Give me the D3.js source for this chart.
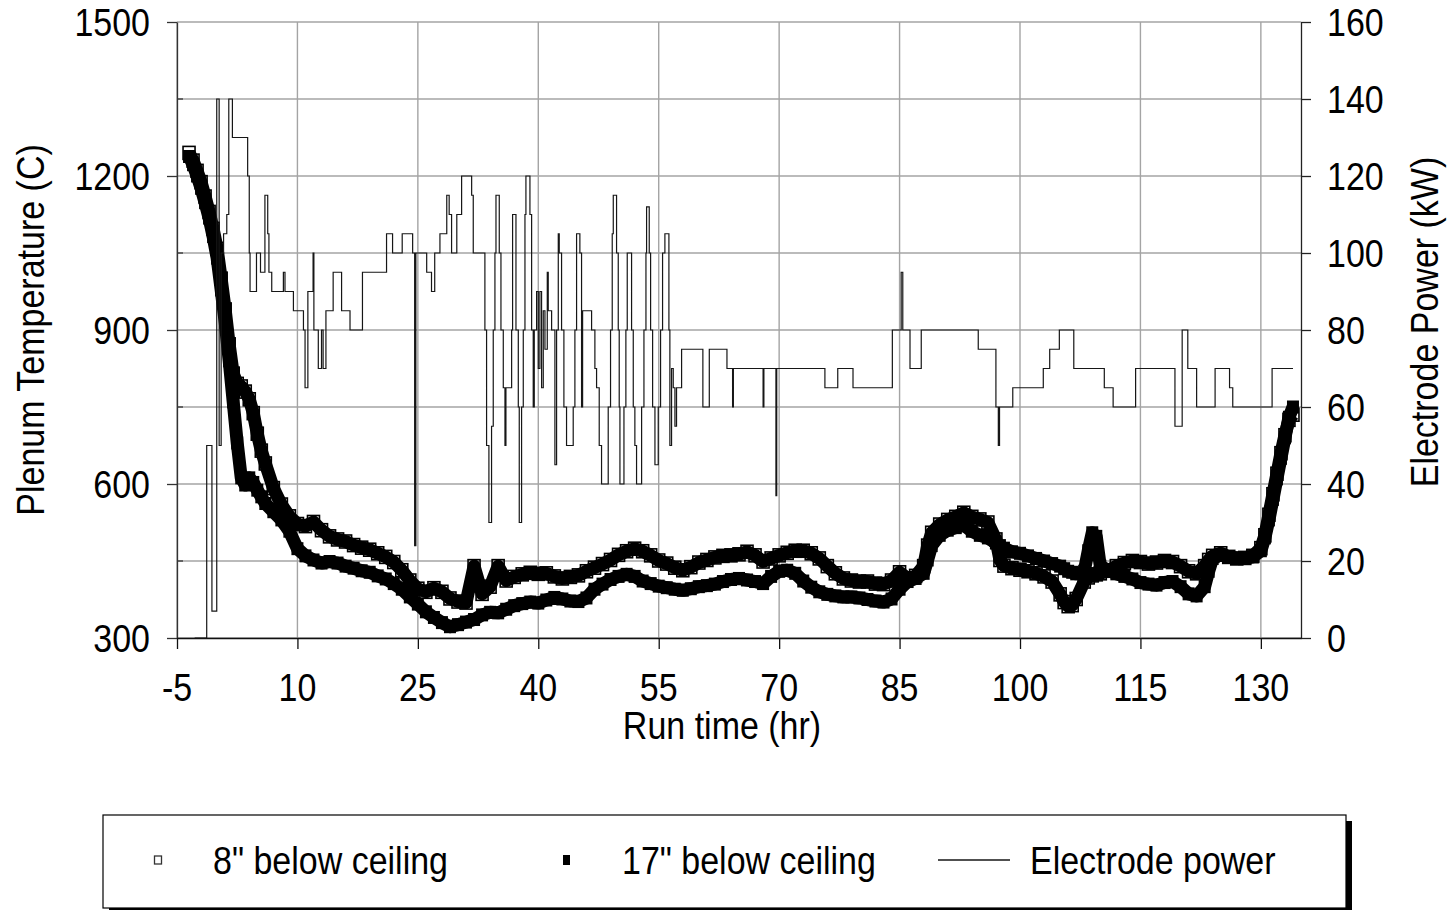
<!DOCTYPE html>
<html>
<head>
<meta charset="utf-8">
<title>Plenum temperature and electrode power</title>
<script src="https://cdn.jsdelivr.net/npm/d3@7/dist/d3.min.js"></script>
<style>
  html, body { margin: 0; padding: 0; background: #fff; }
  svg text { font-family: "Liberation Sans", Arial, Helvetica, sans-serif; font-size: 34px; fill: #000; }
</style>
</head>
<body>
<svg id="chart" width="1450" height="910"></svg>
<script>
// ---------- axis ticks ----------
const timeTicks = [-5, 10, 25, 40, 55, 70, 85, 100, 115, 130];
const tempTicks = [300, 600, 900, 1200, 1500];
const tempMinorTicks = [450, 750, 1050, 1350];
const powerTicks = [0, 20, 40, 60, 80, 100, 120, 140, 160];
const seriesNames = ['8" below ceiling', '17" below ceiling', 'Electrode power'];

// ---------- plenum thermocouples (hr, °C) ----------
const tempTime = [
  -3.5, -3, -2.5, -2, -1.5, -1, -0.5, 0, 0.5, 1,
  1.5, 2, 2.5, 3, 3.5, 4, 4.5, 5, 5.5, 6,
  7, 8, 9, 10, 11, 12, 13, 14, 15, 16,
  17, 18, 19, 20, 21, 22, 23, 24, 25, 26,
  27, 28, 29, 30, 31, 32, 33, 34, 35, 36,
  37, 38, 39, 40, 41, 42, 43, 44, 45, 46,
  47, 48, 49, 50, 51, 52, 53, 54, 55, 56,
  57, 58, 59, 60, 61, 62, 63, 64, 65, 66,
  67, 68, 69, 70, 71, 72, 73, 74, 75, 76,
  77, 78, 79, 80, 81, 82, 83, 84, 85, 86,
  87, 88, 88.5, 89, 90, 91, 92, 93, 94, 95,
  96, 97, 97.5, 98, 99, 100, 101, 102, 103, 104,
  105, 105.5, 106, 106.5, 107, 108, 108.5, 109, 109.5, 110,
  111, 112, 113, 114, 115, 116, 117, 118, 119, 120,
  121, 122, 123, 123.5, 124, 125, 126, 127, 128, 129,
  130, 130.5, 131, 131.5, 132, 132.5, 133, 133.5, 134
];
const temp8in = [
  1245, 1230, 1210, 1188, 1160, 1130, 1097, 1058, 1000, 940,
  872, 815, 795, 790, 780, 765, 738, 698, 665, 640,
  592, 560, 537, 522, 518, 526, 510, 498, 492, 488,
  481, 476, 472, 465, 458, 448, 432, 412, 396, 390,
  397, 390, 377, 371, 369, 440, 386, 400, 440, 412,
  419, 424, 427, 425, 426, 420, 416, 419, 422, 430,
  437, 444, 452, 462, 469, 474, 469, 461, 451, 445,
  437, 432, 438, 447, 452, 457, 460, 461, 463, 468,
  461, 449, 455, 461, 466, 470, 470, 465, 455, 440,
  426, 416, 412, 410, 410, 406, 405, 412, 428, 416,
  421, 440, 480, 505, 521, 530, 536, 544, 536, 531,
  525, 492, 452, 441, 436, 433, 430, 426, 420, 410,
  385, 370, 362, 364, 376, 410, 418, 422, 424, 426,
  431, 440, 446, 450, 448, 445, 447, 450, 448, 440,
  430, 426, 440, 452, 460, 465, 458, 455, 456, 460,
  475, 500, 540, 580, 620, 660, 695, 725, 735
];
const temp17in = [
  1238, 1222, 1200, 1176, 1148, 1118, 1082, 1040, 978, 915,
  840, 760, 680, 612, 598, 612, 603, 588, 575, 562,
  546, 530, 508, 474, 460, 452, 446, 449, 446, 440,
  436, 431, 428, 421, 415, 406, 395, 380, 366, 351,
  340, 330, 322, 326, 331, 336, 345, 350, 349, 356,
  363, 367, 370, 368, 374, 379, 376, 372, 371, 378,
  395, 405, 414, 420, 424, 420, 411, 406, 401, 398,
  395, 393, 396, 400, 402, 405, 410, 414, 416, 413,
  410, 406, 420, 430, 432, 426, 411, 399, 390, 385,
  382, 380, 380, 378, 375, 372, 370, 376, 395, 410,
  416, 426, 452, 480, 500, 510, 515, 520, 508, 500,
  495, 485, 480, 475, 468, 465, 460, 455, 450, 445,
  440, 435, 430, 428, 425, 430, 470, 505, 498, 440,
  432, 425, 420, 415, 408, 405, 403, 408, 410, 400,
  386, 382, 400, 430, 455, 462, 458, 455, 455, 458,
  470, 495, 530, 570, 610, 650, 690, 730, 750
];

// ---------- electrode power, stepped (hr, kW) ----------
const powerTime = [
  -2.8, -1.3, -0.65, -0.05, 0.25, 0.5, 0.8, 1.2, 1.45, 1.9,
  3.8, 4.0, 4.1, 4.9, 5.4, 5.95, 6.3, 6.45, 6.8, 8.25,
  8.45, 9.5, 10.75, 10.95, 11.3, 11.95, 12.05, 12.6, 13.0, 13.2,
  13.55, 14.45, 15.5, 16.55, 18.1, 21.1, 21.85, 23.05, 24.35, 24.6,
  24.75, 26.1, 26.7, 27.1, 27.75, 28.6, 28.9, 29.2, 29.85, 30.45,
  31.7, 31.9, 33.35, 33.56, 33.85, 34.18, 34.39, 34.6, 34.73, 35.14,
  35.35, 35.64, 35.85, 35.97, 36.68, 36.8, 37.22, 37.51, 37.63, 37.92,
  38.13, 38.34, 38.46, 38.96, 39.17, 39.37, 39.5, 39.79, 40.0, 40.2,
  40.41, 40.62, 40.83, 41.12, 41.24, 41.66, 42.07, 42.28, 42.49, 42.61,
  42.9, 43.19, 43.52, 44.35, 44.56, 44.77, 45.18, 45.39, 45.52, 46.64,
  47.05, 47.26, 47.59, 47.88, 48.71, 49.0, 49.21, 49.34, 49.75, 49.96,
  50.08, 50.17, 50.67, 50.91, 51.08, 51.62, 51.83, 52.03, 52.24, 52.87,
  53.16, 53.41, 53.49, 53.82, 53.99, 54.24, 54.53, 54.94, 55.23, 55.48,
  55.77, 56.27, 56.39, 56.6, 56.81, 57.02, 57.22, 57.85, 60.5, 61.3,
  63.5, 64.2, 64.3, 68.0, 68.1, 69.6, 69.7, 75.7, 77.3, 79.2,
  84.1, 85.2, 85.4, 86.3, 87.7, 94.8, 97.0, 97.3, 97.45, 99.1,
  102.9, 103.7, 104.9, 106.7, 110.5, 111.6, 114.4, 119.3, 120.2, 120.9,
  122.0, 124.3, 126.1, 126.5, 131.4, 134.0
];
const powerKW = [
  0, 50, 7, 140, 50, 100, 105, 110, 140, 130,
  120, 100, 90, 100, 95, 115, 105, 95, 90, 95,
  90, 85, 80, 65, 90, 100, 80, 70, 80, 70,
  85, 95, 85, 80, 95, 105, 100, 105, 100, 24,
  100, 95, 90, 100, 105, 115, 110, 100, 110, 120,
  115, 100, 80, 50, 30, 55, 80, 100, 115, 100,
  80, 65, 50, 65, 80, 110, 80, 60, 30, 60,
  80, 110, 120, 110, 80, 60, 80, 90, 70, 90,
  65, 85, 75, 95, 85, 80, 45, 80, 105, 100,
  80, 60, 50, 60, 80, 105, 100, 60, 85, 80,
  70, 65, 50, 40, 60, 80, 105, 115, 100, 80,
  60, 40, 60, 80, 100, 80, 60, 50, 40, 60,
  80, 100, 112, 100, 80, 60, 45, 60, 80, 100,
  105, 80, 50, 70, 65, 55, 65, 75, 60, 75,
  70, 60, 70, 60, 70, 37, 70, 65, 70, 65,
  80, 95, 80, 70, 80, 75, 60, 50, 60, 65,
  70, 75, 80, 70, 65, 60, 70, 55, 80, 70,
  60, 70, 65, 60, 70, 70
];

// ---------- scales ----------
const svg = d3.select("#chart");
const plot = { left: 177, right: 1301, top: 22, bottom: 638 };
const x = d3.scaleLinear().domain([-5, 135]).range([plot.left, plot.right]);
const yTemp = d3.scaleLinear().domain([300, 1500]).range([plot.bottom, plot.top]);
const yPower = d3.scaleLinear().domain([0, 160]).range([plot.bottom, plot.top]);

// text drawn slightly taller than wide, like the original export
function stretchedText(parent, px, py, str, anchor, rot) {
  return parent.append("text")
    .attr("transform", `translate(${px},${py}) rotate(${rot || 0}) scale(1,1.15)`)
    .attr("text-anchor", anchor)
    .attr("dy", "0.36em")
    .text(str);
}

// ---------- gridlines ----------
const grid = svg.append("g").attr("stroke", "#a4a4a4").attr("stroke-width", 1.4);
grid.selectAll("line.gh").data(powerTicks).join("line").attr("class", "gh")
  .attr("x1", plot.left).attr("x2", plot.right)
  .attr("y1", d => yPower(d)).attr("y2", d => yPower(d));
grid.selectAll("line.gv").data(timeTicks).join("line").attr("class", "gv")
  .attr("x1", d => x(d)).attr("x2", d => x(d))
  .attr("y1", plot.top).attr("y2", plot.bottom);

// ---------- temperature series (dense logging drawn as marker bands) ----------
function drawTemp(values, filled) {
  const pts = values.map((v, i) => [x(tempTime[i]), yTemp(v)]);
  const g = svg.append("g");
  g.append("path")
    .attr("d", d3.line()(pts))
    .attr("fill", "none").attr("stroke", "#000")
    .attr("stroke-width", 13).attr("stroke-linejoin", "round");
  g.selectAll("rect").data(pts).join("rect")
    .attr("x", p => p[0] - 6).attr("y", p => p[1] - 6.5)
    .attr("width", 12).attr("height", 13)
    .attr("fill", filled ? "#000" : "none")
    .attr("stroke", "#000").attr("stroke-width", filled ? 0 : 1.6);
}
drawTemp(temp8in, false);
drawTemp(temp17in, true);

// ---------- electrode power ----------
const powerLine = d3.line()
  .curve(d3.curveStepAfter)
  .x((d, i) => x(powerTime[i]))
  .y(d => yPower(d));
svg.append("path")
  .attr("d", powerLine(powerKW))
  .attr("fill", "none").attr("stroke", "#161616").attr("stroke-width", 1.2);

// ---------- axes ----------
svg.append("g").attr("transform", `translate(${plot.left},0)`).attr("color", "#333")
  .call(d3.axisLeft(yTemp).tickValues(tempTicks).tickSize(10).tickSizeOuter(0).tickFormat(""))
  .selectAll("path,line").attr("stroke-width", 1.3);
svg.append("g").attr("stroke", "#333").attr("stroke-width", 1.3)
  .selectAll("line").data(tempMinorTicks).join("line")
  .attr("x1", plot.left).attr("x2", plot.left + 6)
  .attr("y1", d => yTemp(d)).attr("y2", d => yTemp(d));

svg.append("g").attr("transform", `translate(${plot.right},0)`).attr("color", "#222")
  .call(d3.axisRight(yPower).tickValues(powerTicks).tickSize(10).tickSizeOuter(0).tickFormat(""))
  .selectAll("path,line").attr("stroke-width", 1.3);

svg.append("g").attr("transform", `translate(0,${plot.bottom})`).attr("color", "#111")
  .call(d3.axisBottom(x).tickValues(timeTicks).tickSize(11).tickSizeOuter(0).tickFormat(""))
  .selectAll("path,line").attr("stroke-width", 1.3);

// tick labels
tempTicks.forEach(v => stretchedText(svg, 150, yTemp(v), String(v), "end"));
powerTicks.forEach(v => stretchedText(svg, 1327, yPower(v), String(v), "start"));
timeTicks.forEach(v => stretchedText(svg, x(v), 687, String(v), "middle"));

// axis titles
stretchedText(svg, 722, 725, "Run time (hr)", "middle");
stretchedText(svg, 30, 330, "Plenum Temperature (C)", "middle", -90);
stretchedText(svg, 1424, 322, "Electrode Power (kW)", "middle", -90);

// ---------- legend ----------
const lg = svg.append("g");
lg.append("rect").attr("x", 109).attr("y", 821).attr("width", 1243).attr("height", 93).attr("fill", "#000");
lg.append("rect").attr("x", 103).attr("y", 815).attr("width", 1243).attr("height", 93)
  .attr("fill", "#fff").attr("stroke", "#000").attr("stroke-width", 1.2);
const ly = 860;
lg.append("rect").attr("x", 154.5).attr("y", ly - 4).attr("width", 7).attr("height", 8)
  .attr("fill", "#fff").attr("stroke", "#333").attr("stroke-width", 1.3);
stretchedText(lg, 213, ly, seriesNames[0], "start");
lg.append("rect").attr("x", 563).attr("y", ly - 5).attr("width", 7).attr("height", 10).attr("fill", "#000");
stretchedText(lg, 622, ly, seriesNames[1], "start");
lg.append("line").attr("x1", 938).attr("x2", 1010).attr("y1", ly).attr("y2", ly)
  .attr("stroke", "#161616").attr("stroke-width", 1.3);
stretchedText(lg, 1030, ly, seriesNames[2], "start");
</script>
</body>
</html>
